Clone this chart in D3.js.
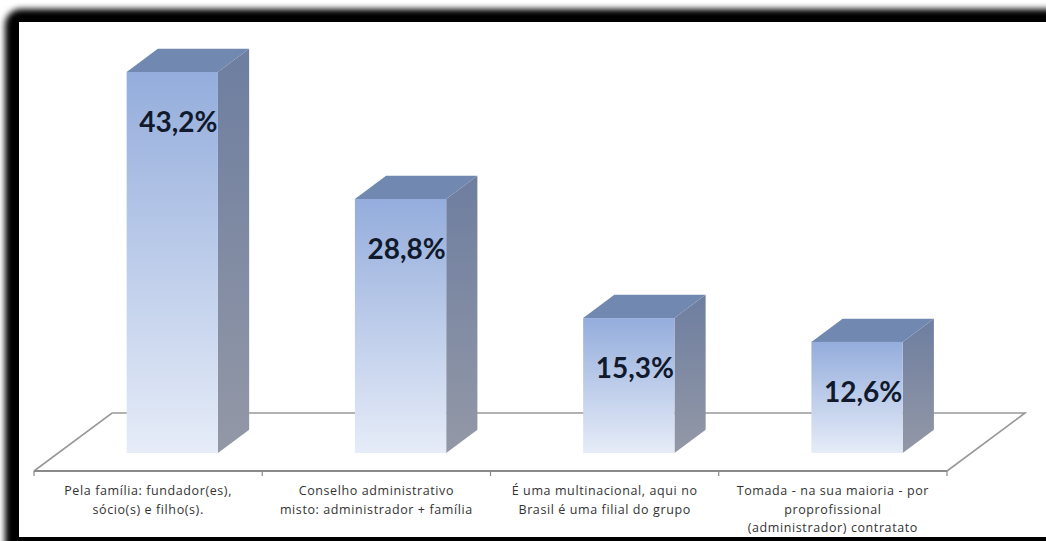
<!DOCTYPE html>
<html>
<head>
<meta charset="utf-8">
<script src="https://cdn.jsdelivr.net/npm/d3@7"></script>
<style>
  body { margin: 0; background: #fff; }
  svg { display: block; }
</style>
</head>
<body>
<div id="chart"></div>
<script>
const categories = [
  ["Pela família: fundador(es),", "sócio(s) e filho(s)."],
  ["Conselho administrativo", "misto: administrador + família"],
  ["É uma multinacional, aqui no", "Brasil é uma filial do grupo"],
  ["Tomada - na sua maioria - por", "proprofissional", "(administrador) contratato"]
];
const values = [43.2, 28.8, 15.3, 12.6];
const valueLabels = values.map(v => v.toFixed(1).replace(".", ",") + "%");

const W = 1046, H = 541;

// 3D floor: front edge and how far back it goes
const floorY = 471;
const depth = {dx: 78, dy: -58};
const barDepth = [0.31, 0.71]; // where the bars sit inside the floor depth

const svg = d3.select("#chart").append("svg")
  .attr("width", W)
  .attr("height", H);

const defs = svg.append("defs");

defs.append("filter").attr("id", "frameBlur")
  .attr("x", "-5%").attr("y", "-5%").attr("width", "110%").attr("height", "110%")
  .append("feGaussianBlur").attr("stdDeviation", 3);

const front = defs.append("linearGradient").attr("id", "front")
  .attr("x1", 0).attr("y1", 0).attr("x2", 0).attr("y2", 1);
front.append("stop").attr("offset", "0%").attr("stop-color", "#94addc");
front.append("stop").attr("offset", "100%").attr("stop-color", "#e6ecf8");

const side = defs.append("linearGradient").attr("id", "side")
  .attr("x1", 0).attr("y1", 0).attr("x2", 0).attr("y2", 1);
side.append("stop").attr("offset", "0%").attr("stop-color", "#6e7ea0");
side.append("stop").attr("offset", "100%").attr("stop-color", "#9398a6");

// black frame round the picture
svg.append("rect")
  .attr("x", 5).attr("y", 9)
  .attr("width", W + 40).attr("height", H + 40)
  .attr("rx", 16)
  .attr("fill", "#000")
  .attr("filter", "url(#frameBlur)");

svg.append("rect")
  .attr("x", 19).attr("y", 22)
  .attr("width", W).attr("height", 537 - 22)
  .attr("fill", "#fff");

const x = d3.scaleBand()
  .domain(d3.range(categories.length))
  .range([34, 947]);

const xBar = d3.scaleBand()
  .domain(d3.range(categories.length))
  .range([34, 947])
  .paddingInner(0.6)
  .paddingOuter(0.3);

const h = d3.scaleLinear()
  .domain([0, 50])
  .range([0, 441]);

const at = (px, py, t) => [px + depth.dx * t, py + depth.dy * t];

// floor
const x0 = x.range()[0], x1 = x.range()[1];
const floorPts = [at(x0, floorY, 0), at(x0, floorY, 1), at(x1, floorY, 1), at(x1, floorY, 0)];
svg.append("polyline")
  .attr("points", floorPts.map(p => p.join(",")).join(" "))
  .attr("fill", "none")
  .attr("stroke", "#999")
  .attr("stroke-width", 1.6);

svg.append("line")
  .attr("x1", x0).attr("x2", x1)
  .attr("y1", floorY).attr("y2", floorY)
  .attr("stroke", "#8a8a8a")
  .attr("stroke-width", 1.8);

svg.append("g").selectAll("line")
  .data(d3.range(categories.length + 1))
  .join("line")
  .attr("x1", i => i < categories.length ? x(i) : x1)
  .attr("x2", i => i < categories.length ? x(i) : x1)
  .attr("y1", floorY)
  .attr("y2", floorY + 5)
  .attr("stroke", "#8a8a8a")
  .attr("stroke-width", 1.2);

// bars
const bars = svg.append("g").selectAll("g")
  .data(values)
  .join("g");

const geom = (v, i) => {
  const [fx, fy] = at(xBar(i), floorY, barDepth[0]);
  const w = xBar.bandwidth();
  const top = fy - h(v);
  const t = barDepth[1] - barDepth[0];
  return {fx, fy, w, top, bx: depth.dx * t, by: depth.dy * t};
};

bars.append("polygon")
  .attr("points", (v, i) => {
    const g = geom(v, i);
    return [[g.fx + g.w, g.top], [g.fx + g.w + g.bx, g.top + g.by],
            [g.fx + g.w + g.bx, g.fy + g.by], [g.fx + g.w, g.fy]].map(p => p.join(",")).join(" ");
  })
  .attr("fill", "url(#side)");

bars.append("polygon")
  .attr("points", (v, i) => {
    const g = geom(v, i);
    return [[g.fx, g.top], [g.fx + g.bx, g.top + g.by],
            [g.fx + g.w + g.bx, g.top + g.by], [g.fx + g.w, g.top]].map(p => p.join(",")).join(" ");
  })
  .attr("fill", "#7188b0");

bars.append("rect")
  .attr("x", (v, i) => geom(v, i).fx)
  .attr("y", (v, i) => geom(v, i).top)
  .attr("width", xBar.bandwidth())
  .attr("height", v => h(v))
  .attr("fill", "url(#front)");

bars.append("text")
  .attr("x", (v, i) => geom(v, i).fx + xBar.bandwidth() / 2 + 6)
  .attr("y", (v, i) => geom(v, i).top + 50)
  .attr("dy", "0.36em")
  .attr("text-anchor", "middle")
  .attr("font-family", "Lato, 'Liberation Sans', sans-serif")
  .attr("font-weight", "bold")
  .attr("font-size", 28)
  .attr("fill", "#111a2c")
  .text((v, i) => valueLabels[i]);

// category labels
svg.append("g").selectAll("text")
  .data(categories)
  .join("text")
  .attr("text-anchor", "middle")
  .attr("font-family", "'Open Sans', sans-serif")
  .attr("font-size", 12.5)
  .attr("letter-spacing", 0.6)
  .attr("fill", "#333")
  .each(function (lines, i) {
    d3.select(this).selectAll("tspan")
      .data(lines)
      .join("tspan")
      .attr("x", x(i) + x.bandwidth() / 2)
      .attr("y", (d, j) => 491 + j * 18.5)
      .attr("dy", "0.35em")
      .text(d => d);
  });
</script>
</body>
</html>
